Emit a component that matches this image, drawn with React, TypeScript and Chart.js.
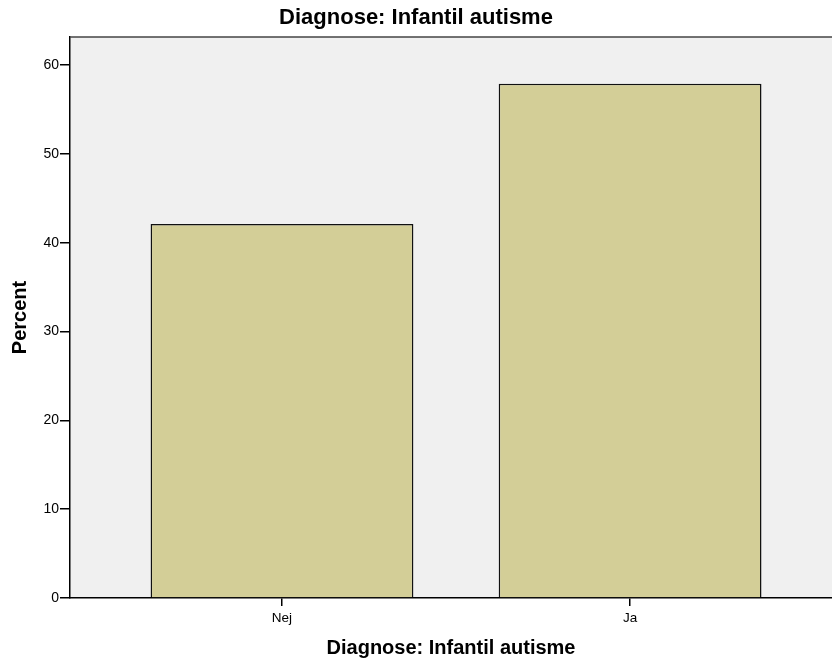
import React, { useEffect, useRef } from "react";
import { Chart, registerables } from "chart.js";

Chart.register(...registerables);

const categories = ["Nej", "Ja"];
const percentValues = [42.1, 57.9];
const yTickValues = [0, 10, 20, 30, 40, 50, 60];
const chartTitle = "Diagnose: Infantil autisme";
const xAxisTitle = "Diagnose: Infantil autisme";
const yAxisTitle = "Percent";

const FONT = "'Liberation Sans', Arial, sans-serif";

const plotBackground = {
  id: "plotBackground",
  beforeDraw(chart: any) {
    const { ctx, chartArea } = chart;
    ctx.save();
    ctx.fillStyle = "#f0f0f0";
    ctx.fillRect(chartArea.left, chartArea.top, chartArea.right - chartArea.left, chartArea.bottom - chartArea.top);
    ctx.restore();
  },
  afterDraw(chart: any) {
    const { ctx, chartArea } = chart;
    ctx.save();
    ctx.strokeStyle = "#444444";
    ctx.lineWidth = 1.5;
    ctx.beginPath();
    ctx.moveTo(chartArea.left, chartArea.top);
    ctx.lineTo(chartArea.right, chartArea.top);
    ctx.stroke();
    ctx.restore();
  },
};

export default function App() {
  const canvasRef = useRef<HTMLCanvasElement>(null);

  useEffect(() => {
    document.body.style.margin = "0";
    const canvas = canvasRef.current;
    if (!canvas) return;
    const chart = new Chart(canvas, {
      type: "bar",
      data: {
        datasets: [
          {
            label: yAxisTitle,
            data: categories.map((_, i) => ({ x: i, y: percentValues[i] })),
            backgroundColor: "#d3ce97",
            borderColor: "#111111",
            borderWidth: 1.5,
            categoryPercentage: 0.755,
            barPercentage: 1,
          },
        ],
      },
      options: {
        responsive: false,
        animation: false,
        layout: { padding: 0 },
        plugins: {
          legend: { display: false },
          tooltip: { enabled: false },
          title: {
            display: true,
            text: chartTitle,
            color: "#000",
            font: { family: FONT, size: 22, weight: "bold", lineHeight: 1.2 },
            padding: { top: 5, bottom: 5.6 },
          },
        },
        scales: {
          x: {
            type: "linear",
            offset: false,
            min: -0.609,
            max: 1.58,
            afterFit: (scale: any) => {
              scale.height = 66;
            },
            afterBuildTicks: (scale: any) => {
              scale.ticks = categories.map((_, i) => ({ value: i }));
            },
            grid: {
              display: true,
              offset: false,
              drawOnChartArea: false,
              drawTicks: true,
              tickLength: 8,
              color: "#000",
              lineWidth: 1.5,
            },
            border: { display: true, color: "#000", width: 1.5 },
            ticks: {
              color: "#000",
              font: { family: FONT, size: 13.5 },
              padding: 4,
              autoSkip: false,
              maxRotation: 0,
              callback: (v: any) => categories[v as number] ?? "",
            },
            title: {
              display: true,
              text: xAxisTitle,
              color: "#000",
              font: { family: FONT, size: 20, weight: "bold", lineHeight: 1.2 },
              padding: { top: 0, bottom: 4 },
            },
          },
          y: {
            type: "linear",
            min: 0,
            max: 63.15,
            afterFit: (scale: any) => {
              scale.width = 70;
            },
            afterBuildTicks: (scale: any) => {
              scale.ticks = yTickValues.map((v) => ({ value: v }));
            },
            grid: {
              display: true,
              drawOnChartArea: false,
              drawTicks: true,
              tickLength: 10,
              color: "#000",
              lineWidth: 1.5,
            },
            border: { display: true, color: "#000", width: 1.5 },
            ticks: {
              color: "#000",
              font: { family: FONT, size: 14 },
              padding: 1,
            },
            title: {
              display: true,
              text: yAxisTitle,
              color: "#000",
              font: { family: FONT, size: 20, weight: "bold", lineHeight: 1.2 },
              padding: { top: 8, bottom: 0 },
            },
          },
        },
      },
      plugins: [plotBackground],
    });
    return () => chart.destroy();
  }, []);

  return <canvas ref={canvasRef} width={832} height={664} style={{ display: "block" }} />;
}
